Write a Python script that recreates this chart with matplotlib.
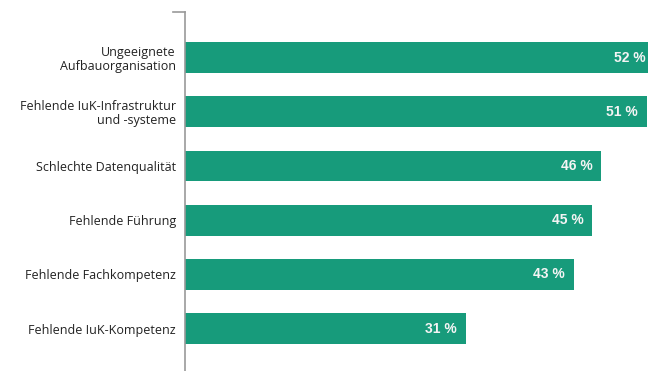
import matplotlib.pyplot as plt

categories = ["Ungeeignete\nAufbauorganisation",
              "Fehlende IuK-Infrastruktur\nund -systeme",
              "Schlechte Datenqualität",
              "Fehlende Führung",
              "Fehlende Fachkompetenz",
              "Fehlende IuK-Kompetenz"]
values = [52, 51, 46, 45, 43, 31]
value_labels = ["52 %", "51 %", "46 %", "45 %", "43 %", "31 %"]

bar_colour = "#179b7b"

fig = plt.figure(figsize=(6.48, 3.71), dpi=100)
ax = fig.add_axes([185 / 648, 0, 463 / 648, 1 - 12 / 371])

pos = list(range(len(categories)))
ax.barh(pos, values, height=0.57, color=bar_colour)
ax.set_xlim(0, 51.15)
ax.set_ylim(5.78, -0.84)

for p, v, lab in zip(pos, values, value_labels):
    x = v - 1.0 if v <= 51.15 else 51.15 - 0.3
    ax.text(x, p, lab, ha="right", va="center", color="#f4f4f4",
            fontsize=10, fontweight="bold", family="Liberation Sans")

ax.set_yticks(pos)
ax.set_yticklabels(categories, fontsize=9, family="Open Sans", color="#222222")
ax.tick_params(axis="y", length=0, pad=6.5)
ax.set_xticks([])
for lab in ax.get_yticklabels():
    lab.set_multialignment("right")
    lab.set_linespacing(1.1)

for s in ["top", "right", "bottom"]:
    ax.spines[s].set_visible(False)
ax.spines["left"].set_color("#999999")
ax.spines["left"].set_linewidth(1.2)
# small tick at the top of the axis line
ax.plot([-12 / 463, 0], [1, 1], transform=ax.transAxes, color="#999999",
        lw=1.2, clip_on=False)

fig.savefig("out.png", dpi=100)
